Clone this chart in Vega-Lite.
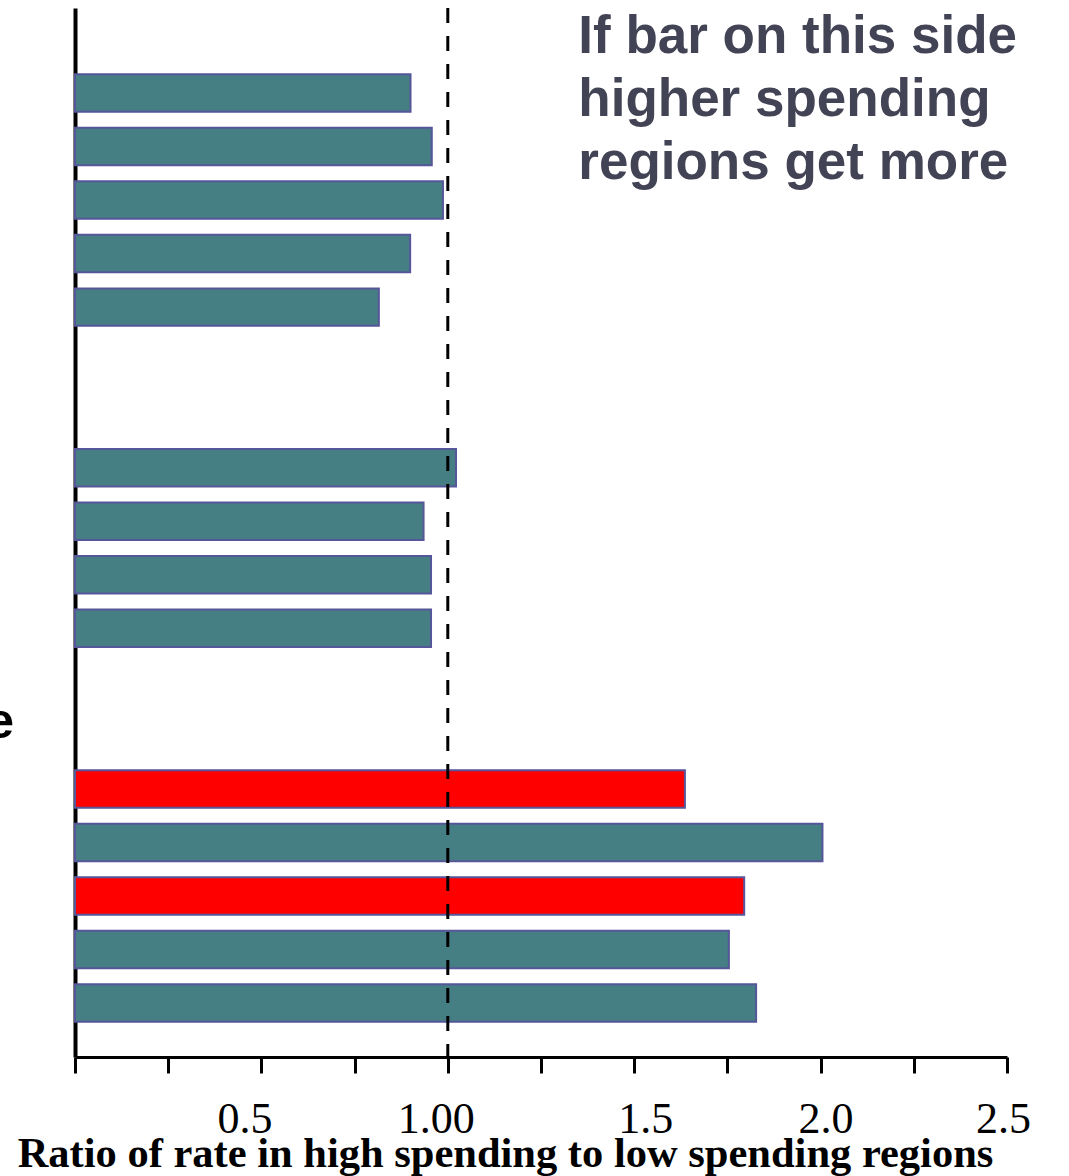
{
  "$schema": "https://vega.github.io/schema/vega-lite/v6.json",
  "autosize": {"type": "none"},
  "width": 932,
  "height": 1049,
  "padding": {"left": 75, "top": 8, "right": 62, "bottom": 119},
  "background": "white",
  "config": {"view": {"stroke": null}},
  "datasets": {
    "bars": [
      {"item": "r01", "ratio": 0.90, "highlight": "no"},
      {"item": "r02", "ratio": 0.957, "highlight": "no"},
      {"item": "r03", "ratio": 0.987, "highlight": "no"},
      {"item": "r04", "ratio": 0.899, "highlight": "no"},
      {"item": "r05", "ratio": 0.815, "highlight": "no"},
      {"item": "r08", "ratio": 1.022, "highlight": "no"},
      {"item": "r09", "ratio": 0.935, "highlight": "no"},
      {"item": "r10", "ratio": 0.955, "highlight": "no"},
      {"item": "r11", "ratio": 0.955, "highlight": "no"},
      {"item": "r14", "ratio": 1.636, "highlight": "yes"},
      {"item": "r15", "ratio": 2.005, "highlight": "no"},
      {"item": "r16", "ratio": 1.795, "highlight": "yes"},
      {"item": "r17", "ratio": 1.754, "highlight": "no"},
      {"item": "r18", "ratio": 1.827, "highlight": "no"}
    ],
    "notes": [
      {"item": "r01", "ratio": 1.35, "label": ["If bar on this side", "higher spending", "regions get more"]}
    ],
    "sideLabel": [
      {"item": "r13", "ratio": 0, "label": "e"}
    ]
  },
  "layer": [
    {
      "data": {"name": "bars"},
      "mark": {"type": "bar", "stroke": "#56569a", "strokeWidth": 2},
      "encoding": {
        "y": {
          "field": "item",
          "type": "nominal",
          "scale": {
            "domain": ["r01","r02","r03","r04","r05","r06","r07","r08","r09","r10","r11","r12","r13","r14","r15","r16","r17","r18"],
            "paddingInner": 0.3,
            "paddingOuter": 0.948,
            "align": 0.653
          },
          "axis": {"labels": false, "ticks": false, "title": null, "domainColor": "black", "domainWidth": 4}
        },
        "x": {
          "field": "ratio",
          "type": "quantitative",
          "scale": {"domain": [0, 2.5], "nice": false, "zero": true},
          "axis": {
            "values": [0, 0.25, 0.5, 0.75, 1, 1.25, 1.5, 1.75, 2, 2.25, 2.5],
            "labelExpr": "datum.value == 1 ? '1.00' : (datum.value > 0 && (datum.value * 4) % 2 == 0 ? format(datum.value, '.1f') : '')",
            "labelOffset": {
              "condition": [
                {"test": "datum.value == 0.5", "value": -17},
                {"test": "datum.value == 1", "value": -12},
                {"test": "datum.value == 1.5", "value": 11},
                {"test": "datum.value == 2", "value": 5},
                {"test": "datum.value == 2.5", "value": -4}
              ],
              "value": 0
            },
            "domainColor": "black",
            "domainWidth": 3,
            "tickColor": "black",
            "tickWidth": 3,
            "tickSize": 16,
            "grid": false,
            "labelFont": "Liberation Serif",
            "labelFontSize": 44,
            "labelColor": "black",
            "labelBaseline": "alphabetic",
            "labelPadding": 59,
            "labelOverlap": false,
            "labelFlush": false,
            "title": "Ratio of rate in high spending to low spending regions",
            "titleFont": "Liberation Serif",
            "titleFontSize": 42.5,
            "titleFontWeight": "bold",
            "titleColor": "black",
            "titleBaseline": "alphabetic",
            "titleAnchor": "start",
            "titleAlign": "center",
            "titleX": 430,
            "titleY": 109
          }
        },
        "color": {
          "field": "highlight",
          "type": "nominal",
          "scale": {"domain": ["no", "yes"], "range": ["#457e83", "#ff0000"]},
          "legend": null
        }
      }
    },
    {
      "data": {"values": [{"ref": 1}]},
      "mark": {"type": "rule", "color": "black", "strokeWidth": 3, "strokeDash": [15, 13]},
      "encoding": {"x": {"field": "ref", "type": "quantitative"}}
    },
    {
      "data": {"name": "notes"},
      "mark": {
        "type": "text",
        "align": "left",
        "baseline": "alphabetic",
        "font": "Liberation Sans",
        "fontWeight": "bold",
        "fontSize": 53,
        "lineHeight": 63,
        "color": "#434356",
        "dy": -40
      },
      "encoding": {
        "x": {"field": "ratio", "type": "quantitative"},
        "y": {"field": "item", "type": "nominal"},
        "text": {"field": "label"}
      }
    },
    {
      "data": {"name": "sideLabel"},
      "mark": {
        "type": "text",
        "align": "right",
        "baseline": "alphabetic",
        "font": "Liberation Sans",
        "fontWeight": "bold",
        "fontSize": 50,
        "color": "black",
        "dx": -61,
        "dy": 3
      },
      "encoding": {
        "x": {"field": "ratio", "type": "quantitative"},
        "y": {"field": "item", "type": "nominal"},
        "text": {"field": "label"}
      }
    }
  ]
}
